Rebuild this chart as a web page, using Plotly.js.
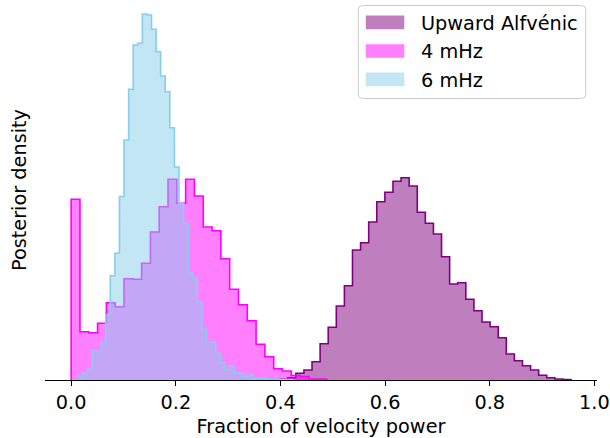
<!DOCTYPE html>
<html>
<head>
<meta charset="utf-8">
<script src="https://cdn.plot.ly/plotly-3.0.1.min.js"></script>
<style>html,body{margin:0;padding:0;background:#fff;}#chart{width:610px;height:438px;}</style>
</head>
<body>
<div id="chart"></div>
<script>
// ---- data (heights, arbitrary density units) ----
const seriesNames = ["Upward Alfvénic", "4 mHz", "6 mHz"];

// Upward Alfvénic: regular bins starting at alfStart, width alfWidth
const alfStart = 0.3830;
const alfWidth = 0.01547;
const alfHeights = [0.5, 0.7, 2.3, 6.7, 10, 18.3, 36.3, 52.7, 74, 94.3, 130, 137.3, 158, 178.3,
  187.7, 198.7, 202.3, 194, 167.7, 156.7, 146, 123.3, 96, 97.3, 80.7, 69.3, 58, 53.3, 42.3,
  26, 19.3, 14.3, 10, 4.7, 2.3, 1, 0.5];

// 4 mHz
const m4Start = 0.0;
const m4Width = 0.01683;
const m4Heights = [180.7, 48.3, 47.3, 56.7, 77.3, 73.3, 101.3, 100.7, 116.7, 148, 173.3, 200.7,
  176.7, 200.7, 184, 153, 149.3, 121.3, 90.7, 75.3, 59.3, 35.7, 23.3, 11.3, 9, 4.5, 3.5, 1, 1];

// 6 mHz
const m6Start = 0.01356;
const m6Width = 0.00875;
const m6Heights = [3.5, 6.7, 10.7, 30, 28.3, 37.7, 65, 104.3, 126.7, 183.5, 240, 290.7, 335,
  336.7, 366, 365, 350.7, 328.3, 304, 288.3, 252.3, 213, 176.3, 156.7, 106.7, 102, 78.3, 50.7,
  38.3, 37.7, 26.7, 17.3, 10, 14, 7.5, 6.7, 3.3, 5, 2, 1.5, 1.5, 1, 1, 0.7, 0.5, 0.5, 0.3];

const xTicks = [0.0, 0.2, 0.4, 0.6, 0.8, 1.0];

// ---- styles ----
const fills = ["rgba(128,0,128,0.5)", "rgba(255,0,255,0.5)", "rgba(135,206,235,0.5)"];
const edges = ["rgb(128,0,128)", "rgb(255,0,255)", "rgb(135,206,235)"];
const FONT = "DejaVu Sans, sans-serif";
const FS = 19.3;

// step outline for a regular-bin histogram (stepfilled)
function stepTrace(start, width, heights, i) {
  const x = [start], y = [0];
  heights.forEach((h, k) => { x.push(start + k * width); y.push(h); });
  x.push(start + heights.length * width); y.push(0);
  return {
    type: "scatter", mode: "lines", x: x, y: y, name: seriesNames[i],
    line: {shape: "hv", color: edges[i], width: 1.6},
    fill: "tozeroy", fillcolor: fills[i], showlegend: false, hoverinfo: "skip"
  };
}

const traces = [
  stepTrace(alfStart, alfWidth, alfHeights, 0),
  stepTrace(m4Start, m4Width, m4Heights, 1),
  stepTrace(m6Start, m6Width, m6Heights, 2)
];

// ---- layout geometry (pixels) ----
const W = 610, H = 438;
const mL = 45, mR = 12.7, mT = 0, mB = 58;
const pw = W - mL - mR, ph = H - mT - mB;
const px2x = p => (p - mL) / pw;       // pixel -> paper x
const py2y = p => 1 - (p - mT) / ph;   // pixel -> paper y

// legend drawn as box + swatches + real text
const shapes = [];
const annotations = [];
(function () {
  const x0 = px2x(358.5), x1 = px2x(586), y0 = py2y(5.5), y1 = py2y(98.5);
  const rx = 4 / pw, ry = 4 / ph;
  const path = `M${x0 + rx},${y0} L${x1 - rx},${y0} Q${x1},${y0} ${x1},${y0 - ry} ` +
    `L${x1},${y1 + ry} Q${x1},${y1} ${x1 - rx},${y1} L${x0 + rx},${y1} Q${x0},${y1} ${x0},${y1 + ry} ` +
    `L${x0},${y0 - ry} Q${x0},${y0} ${x0 + rx},${y0} Z`;
  shapes.push({type: "path", xref: "paper", yref: "paper", path: path,
    line: {color: "rgba(204,204,204,1)", width: 1}, fillcolor: "rgba(255,255,255,0.8)", layer: "above"});
  const rows = [22.4, 51.0, 79.4];
  rows.forEach((cy, i) => {
    shapes.push({type: "rect", xref: "paper", yref: "paper",
      x0: px2x(366), x1: px2x(404.5), y0: py2y(cy - 6.8), y1: py2y(cy + 6.8),
      line: {width: 0}, fillcolor: fills[i], layer: "above"});
    annotations.push({xref: "paper", yref: "paper", x: px2x(419.5), y: py2y(cy + 1),
      xanchor: "left", yanchor: "middle", showarrow: false, text: seriesNames[i],
      font: {family: FONT, size: FS, color: "black"}});
  });
})();

const layout = {
  width: W, height: H,
  margin: {l: mL, r: mR, t: mT, b: mB, pad: 0},
  paper_bgcolor: "white", plot_bgcolor: "white",
  showlegend: false,
  font: {family: FONT, size: FS, color: "black"},
  xaxis: {
    range: [-0.05, 1.005], showgrid: false, zeroline: false,
    showline: true, linecolor: "black", linewidth: 1.1,
    ticks: "outside", ticklen: 5, tickwidth: 1.1, tickcolor: "black",
    tickvals: xTicks, tickformat: ".1f",
    tickfont: {family: FONT, size: FS, color: "black"},
    title: {text: "Fraction of velocity power", font: {family: FONT, size: FS, color: "black"}, standoff: 6},
    automargin: false, fixedrange: true
  },
  yaxis: {
    range: [0, ph], showgrid: false, zeroline: false, showline: false,
    showticklabels: false, ticks: "",
    title: {text: "Posterior density", font: {family: FONT, size: FS, color: "black"}, standoff: 12},
    automargin: false, fixedrange: true
  },
  shapes: shapes,
  annotations: annotations
};

Plotly.newPlot("chart", traces, layout, {displayModeBar: false, staticPlot: true});
</script>
</body>
</html>
